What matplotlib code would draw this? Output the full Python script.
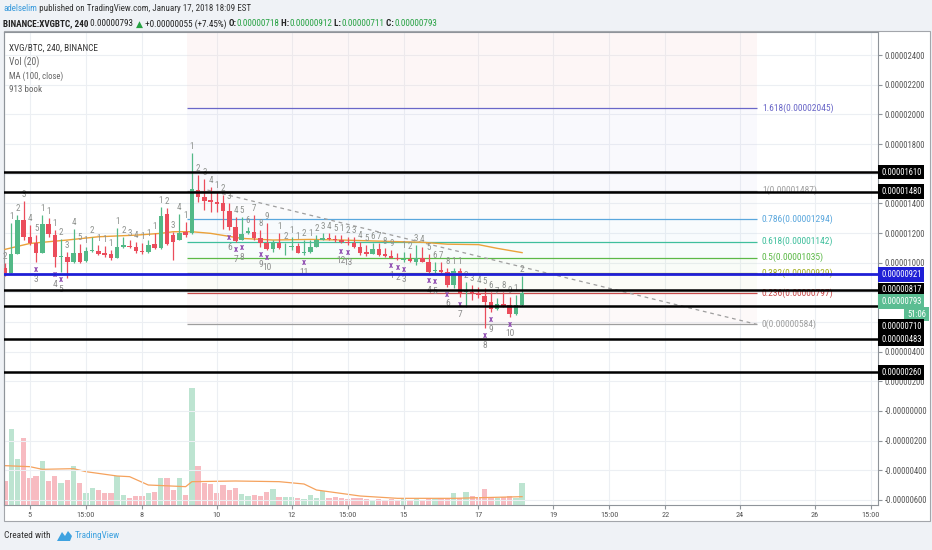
import matplotlib
matplotlib.use('Agg')
import matplotlib.pyplot as plt
import matplotlib.patches as mpatches
import matplotlib.transforms as mtransforms
from matplotlib import font_manager as fm
import numpy as np

W, H = 932, 550

# ---- data: 4h candles, prices in satoshi (1e-8 BTC) ----
opens = [966, 932, 1056, 1285, 1175, 1130, 1063, 1261, 1186, 1036,
         1040, 1006, 1063, 1011, 1078, 1078, 1063, 1056, 1029, 1108,
         1114, 1108, 1078, 1072, 1126, 1096, 1328, 1186, 1153, 1209,
         1198, 1490, 1445, 1422, 1411, 1400, 1348, 1238, 1153, 1202,
         1209, 1168, 1130, 1090, 1130, 1103, 1105, 1112, 1067, 1074,
         1108, 1153, 1164, 1159, 1153, 1141, 1131, 1109, 1070, 1061,
         1090, 1057, 1048, 1034, 1019, 1023, 1007, 1034, 1007, 944,
         951, 935, 850, 947, 801, 805, 794, 778, 738, 688,
         720, 715, 652, 718]
highs = [995, 1265, 1321, 1416, 1254, 1186, 1321, 1299, 1220, 1157,
         1074, 1225, 1123, 1108, 1175, 1119, 1112, 1085, 1231, 1175,
         1153, 1141, 1130, 1153, 1198, 1377, 1366, 1209, 1328, 1276,
         1737, 1591, 1562, 1512, 1479, 1456, 1400, 1310, 1310, 1243,
         1321, 1220, 1265, 1153, 1198, 1130, 1175, 1130, 1153, 1153,
         1186, 1198, 1198, 1186, 1186, 1175, 1176, 1142, 1120, 1131,
         1131, 1097, 1086, 1064, 1075, 1064, 1120, 1109, 1057, 1007,
         1007, 962, 962, 967, 872, 850, 839, 828, 805, 760,
         805, 771, 782, 912]
lows = [910, 928, 1056, 1153, 1119, 1006, 1063, 1175, 973, 939,
        894, 995, 995, 1006, 1074, 1051, 1040, 1018, 1029, 1096,
        1096, 1063, 1058, 1063, 1090, 1090, 1119, 1018, 1153, 1175,
        1193, 1411, 1355, 1344, 1344, 1225, 1220, 1141, 1153, 1191,
        1153, 1108, 1085, 1074, 1090, 1051, 1085, 1063, 1051, 1067,
        1103, 1153, 1153, 1141, 1130, 1119, 1097, 1052, 1048, 1057,
        1048, 1041, 1030, 1019, 1007, 1007, 985, 1003, 929, 922,
        929, 839, 832, 771, 704, 749, 760, 560, 670, 682,
        704, 637, 648, 711]
closes = [932, 1056, 1285, 1171, 1130, 1063, 1261, 1191, 1036, 1042,
          1006, 1063, 1006, 1078, 1085, 1058, 1051, 1029, 1103, 1117,
          1105, 1078, 1069, 1119, 1096, 1314, 1123, 1141, 1202, 1186,
          1497, 1445, 1418, 1407, 1393, 1348, 1238, 1148, 1191, 1211,
          1168, 1130, 1090, 1130, 1096, 1108, 1112, 1067, 1072, 1108,
          1153, 1164, 1157, 1153, 1137, 1130, 1109, 1064, 1061, 1090,
          1052, 1048, 1034, 1023, 1023, 1012, 1034, 1007, 940, 949,
          937, 850, 947, 798, 810, 798, 783, 738, 688, 720,
          711, 652, 715, 793]
volumes = [72, 228, 137, 200, 80, 88, 132, 72, 87, 65,
           75, 117, 65, 35, 50, 45, 35, 35, 88, 30,
           22, 27, 28, 37, 38, 80, 82, 45, 80, 30,
           352, 117, 67, 62, 35, 60, 45, 50, 32, 27,
           31, 28, 39, 48, 25, 25, 25, 20, 18, 30,
           20, 43, 20, 25, 22, 18, 22, 20, 18, 15,
           18, 15, 18, 15, 20, 15, 18, 15, 20, 18,
           20, 22, 35, 20, 40, 27, 24, 48, 25, 20,
           25, 27, 22, 65]

# MA(100, close) and Vol MA(20) at some bars
ma_idx = [0, 4, 10, 15, 21, 25, 27, 30, 33, 38, 43, 49, 54, 63, 67, 71, 76, 79, 83]
ma_val = [1090, 1130, 1153, 1175, 1186, 1198, 1209, 1209, 1198, 1164,
          1153, 1157, 1153, 1142, 1138, 1125, 1122, 1097, 1068]
vol_ma_idx = [0, 4, 6, 11, 13, 18, 20, 23, 29, 30, 37, 44, 48, 50, 57, 63, 72, 83]
vol_ma_val = [118, 115, 107, 109, 100, 87, 85, 60, 55, 70, 72, 70, 63, 45, 27, 20, 20, 25]

# TD-style counts above candles, markers below
count_up = ['2', '1', '2', '3', '4', '5', '1', '1', '1', '2',
            '3', '4', '5', '1', '2', '1', '1', '1', '1', '2',
            '3', '4', '1', '1', '1', '1', '2', '3', '4', '1',
            '1', '2', '3', '4', '1', '2', '3', '4', '5', '6',
            '7', '8', '9', '', '1', '2', '1', '1', '2', '1',
            '2', '3', '4', '5', '1', '2', '3', '4', '5', '6',
            '7', '8', '9', '', '1', '2', '3', '4', '5', '6',
            '7', '8', '1', '1', '2', '3', '4', '5', '6', '7',
            '8', '9', '1', '2']
mark_idx = [5, 8, 9, 36, 37, 38, 41, 42, 48, 54, 55, 62, 63, 64, 68, 69, 71, 73, 77, 78, 81]
mark_lbl = ['3', '4', '5', '6', '7', '8', '9', '10', '11', '12', '13',
            '1', '2', '3', '4', '5', '6', '7', '8', '9', '10']

# horizontal levels and fibonacci retracement
black_levels = [1610, 1480, 817, 710, 483, 260]
blue_level = 921
fib_ratio = ['1.618', '1', '0.786', '0.618', '0.5', '0.382', '0.236', '0']
fib_price = [2045, 1487, 1294, 1142, 1035, 929, 797, 584]
fib_color = ['#6a67c8', '#9e9e9e', '#5aa7dd', '#3fbf9c', '#5cb947', '#a2ad1f', '#c94b4b', '#9e9e9e']
fib_fill = ['#a99be6', '#c8c8d8', '#8cc4e8', '#7fd6bd', '#9ad38a', '#c9cf7a', '#e8a0a0']
fib_x = (29.2, 120.7)
trend_x = [32.5, 120.7]
trend_y = [1490, 584]

date_pos = [4, 13, 22, 34, 46, 55, 64, 76, 88, 97, 106, 118, 130, 139]
date_lbl = ['5', '15:00', '8', '10', '12', '15:00', '15', '17', '19', '15:00', '22', '24', '26', '15:00']
price_ticks = list(range(-600, 2401, 200))

GREEN = '#53b987'
RED = '#eb4d5c'

# pick a narrow face if there is one
pref = ['Liberation Sans Narrow', 'Roboto Condensed', 'Open Sans Condensed', 'Noto Sans Condensed']
names = {f.name for f in fm.fontManager.ttflist}
FAMILY = next((n for n in pref if n in names), None)
if FAMILY is None:
    cond = [f for f in fm.fontManager.ttflist
            if f.name == 'DejaVu Sans' and str(f.stretch) == 'condensed']
    if cond:
        FAMILY = 'DejaVu Sans'
        plt.rcParams['font.stretch'] = 'condensed'
    else:
        FAMILY = 'Lato'
plt.rcParams['font.family'] = [FAMILY, 'DejaVu Sans']


def fx(px):
    return px / W


def fy(py):
    return 1 - py / H


fig = plt.figure(figsize=(W / 100, H / 100), dpi=100)
fig.patch.set_facecolor('#eff2f6')
renderer = fig.canvas.get_renderer()


def text_w(s, **kw):
    t = fig.text(0, 0, s + '|', **kw)
    w1 = t.get_window_extent(renderer).width
    t.remove()
    t = fig.text(0, 0, '|', **kw)
    w2 = t.get_window_extent(renderer).width
    t.remove()
    return w1 - w2


def fit_size(s, width, weight='normal'):
    return 10 * width / text_w(s, fontsize=10, fontweight=weight)


def put_runs(runs, x0, yc, width, zorder=3):
    total = sum(text_w(s, fontsize=10, fontweight=wt) for s, cc, wt in runs)
    size2 = 10 * width / total
    x = x0
    for s, cc, wt in runs:
        fig.text(fx(x), fy(yc), s, fontsize=size2, fontweight=wt, color=cc,
                 va='center', ha='left', zorder=zorder)
        x += text_w(s, fontsize=size2, fontweight=wt)


AX_FS = min(fit_size('0.00002400', 40), 7.5)
DATE_FS = min(fit_size('15:00', 18), 7.5)

frame = mpatches.Rectangle((fx(4), fy(521)), fx(930) - fx(4), fy(31) - fy(521),
                           transform=fig.transFigure, facecolor='white',
                           edgecolor='#a3a6ab', lw=0.8, zorder=0)
fig.add_artist(frame)

rect = [fx(4), fy(505), fx(878) - fx(4), fy(32) - fy(505)]
axv = fig.add_axes(rect)
axv.axis('off')
axv.set_ylim(0, 1419)
ax = fig.add_axes(rect, sharex=axv)
ax.patch.set_alpha(0)
ax.set_xlim(-0.16, 140.13)
ax.set_ylim(-634, 2556)

# grid
for p in price_ticks:
    ax.axhline(p, color='#eceff3', lw=0.8, zorder=0)
for d in date_pos:
    ax.axvline(d, color='#eceff3', lw=0.8, zorder=0)

idx = np.arange(len(opens))
o, hi, lo, c = (np.array(a, dtype=float) for a in (opens, highs, lows, closes))
up = c >= o
col = np.where(up, GREEN, RED)

# volume
axv.bar(idx, volumes, width=0.85, color=col, alpha=0.38, linewidth=0)
axv.plot(vol_ma_idx, vol_ma_val, color='#f5a25d', lw=0.9)

# fib zones
ax.fill_between(fib_x, fib_price[0], 2556, color='#f3c9c9', alpha=0.15, lw=0, zorder=1)
for k in range(len(fib_price) - 1):
    ax.fill_between(fib_x, fib_price[k + 1], fib_price[k], color=fib_fill[k],
                    alpha=0.06, lw=0, zorder=1)
for r, p, fc in zip(fib_ratio, fib_price, fib_color):
    ax.hlines(p, fib_x[0], fib_x[1], color=fc, lw=0.9, zorder=2)
    ax.text(fib_x[1] + 0.8, p, f'{r}({p * 1e-8:.8f})', color=fc, fontsize=AX_FS + 0.6,
            va='center', ha='left', zorder=2)
ax.plot(trend_x, trend_y, color='#9e9e9e', lw=0.9, ls=(0, (3, 3)), zorder=3)

# MA(100)
ax.plot(ma_idx, ma_val, color='#eba23a', lw=1.0, zorder=3)

# candles
ax.vlines(idx, lo, hi, colors=col, lw=0.9, zorder=4)
ax.bar(idx, np.maximum(np.abs(c - o), 6), bottom=np.minimum(o, c), width=0.72,
       color=col, linewidth=0, zorder=5)

# counts
for i, s in enumerate(count_up):
    if s:
        ax.annotate(s, (i, highs[i]), xytext=(0, 1.5), textcoords='offset points',
                    ha='center', va='bottom', fontsize=6.5, color='#8d918d', zorder=6)
for i, s in zip(mark_idx, mark_lbl):
    ax.annotate('x', (i, lows[i]), xytext=(0, -5.5), textcoords='offset points',
                ha='center', va='center', fontsize=6.5, color='#8e4bb0',
                fontweight='bold', zorder=6)
    ax.annotate(s, (i, lows[i]), xytext=(0, -12.5), textcoords='offset points',
                ha='center', va='center', fontsize=6.8, color='#8d8d8d', zorder=6)

# horizontal levels
for p in black_levels:
    ax.axhline(p, color='black', lw=1.8, zorder=7)
ax.axhline(blue_level, color='#1f1fd6', lw=2.0, zorder=7)

# axes styling
for sp in ax.spines.values():
    sp.set_color('#8f949a')
    sp.set_linewidth(0.8)
ax.yaxis.tick_right()
ax.set_yticks(price_ticks)
ax.set_yticklabels(['-0.00000000' if v == 0 else f'{v * 1e-8:.8f}' for v in price_ticks])
ax.set_xticks(date_pos)
ax.set_xticklabels(date_lbl)
ax.tick_params(axis='y', direction='out', length=3, color='#8f949a',
               labelsize=AX_FS, labelcolor='#555555', pad=2)
ax.tick_params(axis='x', direction='out', length=3, color='#8f949a',
               labelsize=DATE_FS, labelcolor='#555555', pad=2)

# price labels on the axis
trans = mtransforms.blended_transform_factory(ax.transAxes, ax.transData)


def price_box(price, text, fc, dy=0.0, ha='left', dx=2.2):
    ax.annotate(text, xy=(1, price), xycoords=trans, xytext=(dx, dy),
                textcoords='offset points', ha=ha, va='center', fontsize=AX_FS,
                color='white', zorder=20, annotation_clip=False,
                bbox=dict(boxstyle='square,pad=0.3', fc=fc, ec='none'))


for p in [1610, 1480, 483, 260]:
    price_box(p, f'{p * 1e-8:.8f}', 'black')
price_box(blue_level, f'{blue_level * 1e-8:.8f}', '#1f1fd6')
price_box(817, '0.00000817', 'black')
price_box(817, '0.00000793', '#5bbd92', dy=-8.4)
price_box(817, '51:06', '#5bbd92', dy=-17.4, ha='right', dx=34.5)
price_box(817, '0.00000710', 'black', dy=-26.4)

# legend texts
put_runs([('XVG/BTC, 240, BINANCE', '#333333', 'normal')], 9, 48, 89)
put_runs([('Vol (20)', '#666666', 'normal')], 9, 62, 30)
put_runs([('MA (100, close)', '#666666', 'normal')], 9, 76, 54)
put_runs([('913 book', '#666666', 'normal')], 9, 90, 33)

# header
HG = '#27a243'
put_runs([('adelselim', '#3a9bdc', 'normal'),
          (' published on TradingView.com, January 17, 2018 18:09 EST', '#333333', 'normal')],
         3, 8.5, 247)
put_runs([('BINANCE:XVGBTC, 240', '#222222', 'bold'), (' 0.00000793 ', '#222222', 'normal'),
          ('▲', HG, 'normal'), (' +0.00000055 (+7.45%) ', '#222222', 'normal'),
          ('O:', '#222222', 'bold'), ('0.00000718', HG, 'normal'),
          (' H:', '#222222', 'bold'), ('0.00000912', HG, 'normal'),
          (' L:', '#222222', 'bold'), ('0.00000711', HG, 'normal'),
          (' C:', '#222222', 'bold'), ('0.00000793', HG, 'normal')],
         3, 24, 434)

# footer
put_runs([('Created with', '#333333', 'normal')], 4, 536, 46)
logo = mpatches.Polygon([(fx(57), fy(541)), (fx(62), fy(532)), (fx(65), fy(536)),
                         (fx(68), fy(531)), (fx(72), fy(536)), (fx(70), fy(541))],
                        closed=True, transform=fig.transFigure, fc='#3ea2e0', ec='none')
fig.add_artist(logo)
put_runs([('TradingView', '#3ea2e0', 'normal')], 75, 536, 45)

fig.savefig('out.png', dpi=100, facecolor=fig.get_facecolor())
